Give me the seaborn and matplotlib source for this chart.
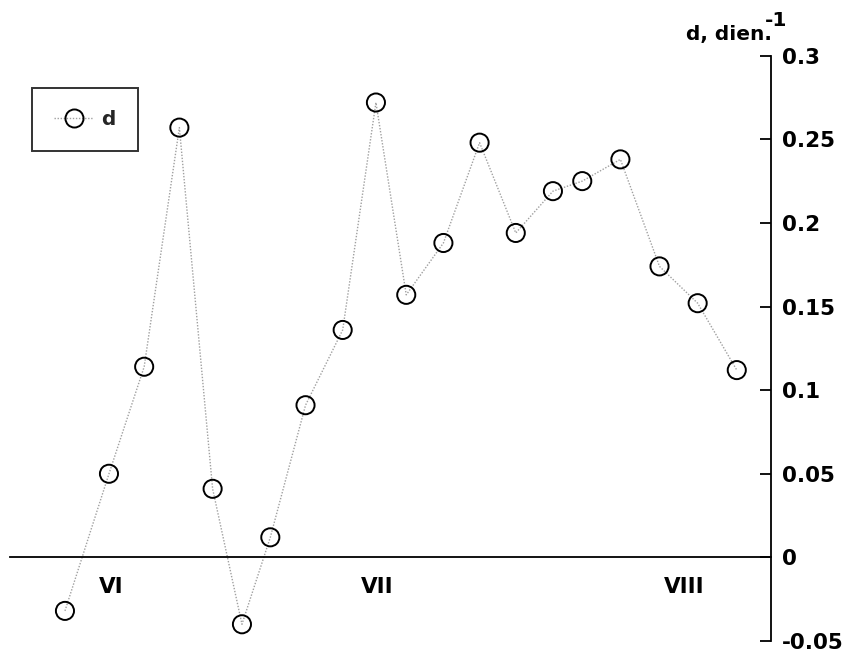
import matplotlib
matplotlib.use("Agg")
import matplotlib.pyplot as plt
from matplotlib.lines import Line2D
import seaborn as sns
import pandas as pd

# Observation day (days counted from 1 June) and measured d (per day)
days = [12.9, 17.4, 21.0, 24.6, 28.0, 31.0, 33.9, 37.5, 41.3, 44.7,
        47.8, 51.6, 55.3, 59.0, 62.8, 65.8, 69.7, 73.7, 77.6, 81.6]
d_values = [-0.032, 0.050, 0.114, 0.257, 0.041, -0.040, 0.012, 0.091, 0.136, 0.272,
            0.157, 0.188, 0.248, 0.194, 0.219, 0.225, 0.238, 0.174, 0.152, 0.112]

# Month boundaries and labels
month_bounds = [30.0, 61.0]
month_names = ["VI", "VII", "VIII"]
month_centers = [17.6, 44.8, 76.2]
y_ticks = [-0.05, 0, 0.05, 0.1, 0.15, 0.2, 0.25, 0.3]
y_tick_labels = ["-0.05", "0", "0.05", "0.1", "0.15", "0.2", "0.25", "0.3"]

df = pd.DataFrame({"day": days, "d": d_values})

sns.set_style("white")
plt.rcParams["font.family"] = ["DejaVu Sans"]

fig = plt.figure(figsize=(8.65, 6.56), dpi=100)
ax = fig.add_axes([10 / 865, 1 - 641 / 656, 761 / 865, (641 - 55.7) / 656])

line_color = "#a0a0a0"
dots = (0, (1, 1.2))
sns.lineplot(data=df, x="day", y="d", ax=ax, color=line_color, linestyle=dots,
             linewidth=1.0, zorder=1)
sns.scatterplot(data=df, x="day", y="d", ax=ax, marker="o", s=170, facecolor="none",
                edgecolor="black", linewidth=1.4, zorder=3)

ax.set_xlim(7.28, 85.1)
ax.set_ylim(-0.05, 0.3)

for side in ["top", "left"]:
    ax.spines[side].set_visible(False)
ax.spines["right"].set_color("black")
ax.spines["right"].set_linewidth(1.3)
ax.spines["bottom"].set_position(("data", 0))
ax.spines["bottom"].set_color("black")
ax.spines["bottom"].set_linewidth(1.3)

ax.yaxis.tick_right()
ax.set_yticks(y_ticks)
ax.set_yticklabels(y_tick_labels)
ax.tick_params(axis="y", direction="in", length=8, width=1.3, pad=8,
               labelsize=15.5, colors="black")
for lbl in ax.get_yticklabels():
    lbl.set_fontweight("bold")

ax.set_xticks(month_bounds)
ax.set_xticklabels([])
ax.tick_params(axis="x", direction="inout", length=20, width=1.3, colors="black")

for xc, name in zip(month_centers, month_names):
    ax.text(xc, -0.018, name, ha="center", va="center", fontsize=15.5,
            fontweight="bold", color="black")

ax.set_xlabel("")
ax.set_ylabel("")

# Axis title above the right-hand scale
fig.text(772 / 865, 1 - 40 / 656, "d, dien.", ha="right", va="baseline",
         fontsize=14.5, fontweight="bold", color="black")
fig.text(765 / 865, 1 - 20 / 656, "-1", ha="left", va="center",
         fontsize=14.5, fontweight="bold", color="black")

handle = Line2D([0], [0], color=line_color, linestyle=dots, linewidth=1.0,
                marker="o", markersize=13, markerfacecolor="none",
                markeredgecolor="black", markeredgewidth=1.4)
leg = ax.legend([handle], ["d"], loc="upper left", bbox_to_anchor=(0.029, 0.945),
                frameon=True, fancybox=False, fontsize=14.5, handlelength=1.95,
                borderpad=1.1, handletextpad=0.4, borderaxespad=0)
leg.get_frame().set_edgecolor("black")
leg.get_frame().set_linewidth(1.4)
for t in leg.get_texts():
    t.set_fontweight("bold")

fig.savefig("out.png", dpi=100)
